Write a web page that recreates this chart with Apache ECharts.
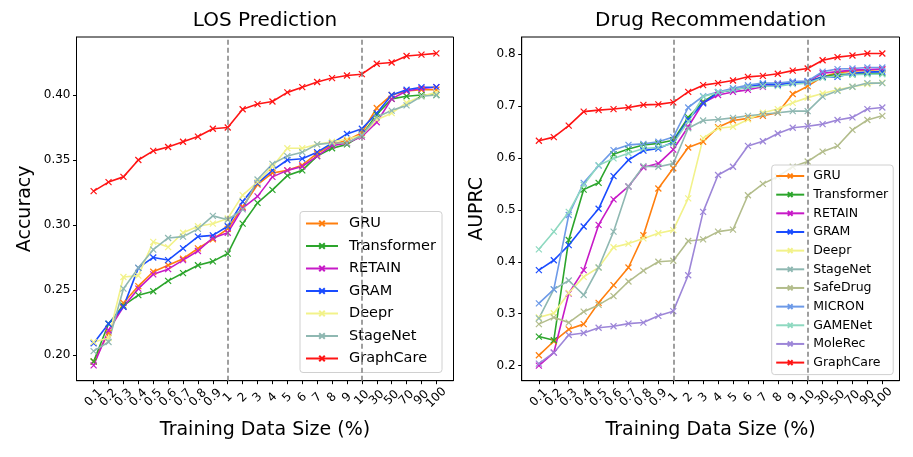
<!DOCTYPE html>
<html><head><meta charset="utf-8">
<script src="https://cdn.jsdelivr.net/npm/echarts@6/dist/echarts.min.js"></script>
<style>html,body{margin:0;padding:0;background:#fff}#c{width:913px;height:457px}</style>
</head><body><div id="c"></div>
<script>
var categories = ['0.1','0.2','0.3','0.4','0.5','0.6','0.7','0.8','0.9','1','2','3','4','5','6','7','8','9','10','30','50','70','90','100'];
var dividerCategories = ['1','10'];
var losTicks = [0.20,0.25,0.30,0.35,0.40];
var drugTicks = [0.2,0.3,0.4,0.5,0.6,0.7,0.8];

var losNames = ['GRU','Transformer','RETAIN','GRAM','Deepr','StageNet','GraphCare'];
var drugNames = ['GRU','Transformer','RETAIN','GRAM','Deepr','StageNet','SafeDrug','MICRON','GAMENet','MoleRec','GraphCare'];

var los_GRU = [0.195,0.217,0.240,0.253,0.264,0.269,0.274,0.282,0.289,0.297,0.314,0.331,0.340,0.342,0.346,0.355,0.362,0.365,0.371,0.390,0.400,0.403,0.404,0.404];
var los_Transformer = [0.195,0.224,0.238,0.246,0.249,0.257,0.263,0.269,0.272,0.278,0.301,0.317,0.327,0.338,0.342,0.353,0.359,0.362,0.369,0.385,0.397,0.399,0.400,0.400];
var los_RETAIN = [0.192,0.219,0.237,0.251,0.262,0.266,0.273,0.280,0.290,0.294,0.313,0.322,0.337,0.342,0.345,0.353,0.361,0.363,0.368,0.379,0.397,0.403,0.405,0.406];
var los_GRAM = [0.209,0.224,0.237,0.267,0.275,0.273,0.282,0.291,0.292,0.299,0.318,0.332,0.342,0.350,0.351,0.356,0.363,0.370,0.374,0.386,0.400,0.404,0.406,0.406];
var los_Deepr = [0.210,0.213,0.260,0.261,0.287,0.283,0.294,0.299,0.301,0.305,0.323,0.333,0.345,0.359,0.359,0.362,0.364,0.366,0.369,0.381,0.386,0.394,0.399,0.402];
var los_StageNet = [0.203,0.210,0.251,0.267,0.281,0.290,0.291,0.297,0.307,0.304,0.312,0.335,0.347,0.353,0.356,0.362,0.363,0.363,0.369,0.383,0.388,0.392,0.399,0.400];
var los_GraphCare = [0.326,0.333,0.337,0.350,0.357,0.360,0.364,0.368,0.374,0.375,0.389,0.393,0.395,0.402,0.406,0.410,0.413,0.415,0.416,0.424,0.425,0.430,0.431,0.432];

var drug_GRU = [0.220,0.247,0.270,0.280,0.321,0.355,0.389,0.451,0.541,0.580,0.620,0.631,0.659,0.672,0.676,0.681,0.687,0.723,0.738,0.756,0.764,0.767,0.769,0.770];
var drug_Transformer = [0.256,0.249,0.442,0.539,0.552,0.607,0.617,0.625,0.628,0.634,0.678,0.708,0.726,0.731,0.736,0.740,0.742,0.745,0.747,0.756,0.761,0.761,0.763,0.763];
var drug_RETAIN = [0.200,0.225,0.339,0.384,0.471,0.520,0.545,0.582,0.589,0.616,0.660,0.706,0.721,0.727,0.731,0.737,0.742,0.745,0.747,0.763,0.766,0.769,0.770,0.771];
var drug_GRAM = [0.384,0.403,0.432,0.468,0.502,0.565,0.596,0.614,0.618,0.630,0.674,0.705,0.726,0.731,0.737,0.742,0.740,0.745,0.745,0.756,0.756,0.763,0.765,0.766];
var drug_Deepr = [0.293,0.301,0.340,0.371,0.389,0.428,0.435,0.445,0.455,0.461,0.522,0.638,0.657,0.660,0.674,0.687,0.694,0.706,0.716,0.724,0.731,0.737,0.742,0.745];
var drug_StageNet = [0.291,0.347,0.364,0.336,0.389,0.458,0.545,0.584,0.583,0.589,0.657,0.672,0.674,0.677,0.681,0.684,0.687,0.690,0.690,0.718,0.729,0.737,0.744,0.744];
var drug_SafeDrug = [0.280,0.293,0.283,0.304,0.317,0.334,0.362,0.383,0.400,0.402,0.440,0.443,0.458,0.462,0.528,0.550,0.564,0.583,0.593,0.612,0.623,0.654,0.673,0.681];
var drug_MICRON = [0.320,0.347,0.490,0.552,0.585,0.615,0.625,0.627,0.631,0.640,0.697,0.719,0.727,0.734,0.740,0.744,0.744,0.747,0.748,0.766,0.771,0.772,0.774,0.774];
var drug_GAMENet = [0.424,0.458,0.496,0.548,0.586,0.599,0.609,0.618,0.620,0.628,0.670,0.718,0.726,0.731,0.736,0.738,0.738,0.742,0.744,0.754,0.758,0.760,0.761,0.761];
var drug_MoleRec = [0.204,0.225,0.259,0.263,0.273,0.276,0.281,0.283,0.296,0.305,0.374,0.496,0.567,0.583,0.623,0.632,0.647,0.658,0.661,0.665,0.673,0.678,0.694,0.697];
var drug_GraphCare = [0.633,0.640,0.662,0.689,0.692,0.694,0.697,0.702,0.703,0.707,0.727,0.740,0.744,0.749,0.756,0.758,0.762,0.768,0.772,0.788,0.794,0.797,0.801,0.801];

var colors = {GRU:'#ff7f0e',Transformer:'#2ca52c',RETAIN:'#c71ac7',GRAM:'#1a4cff',Deepr:'#f2f28a',StageNet:'#8fb8b2',SafeDrug:'#b3bd8c',MICRON:'#6d9ae8',GAMENet:'#8ed9c0',MoleRec:'#9d86d8',GraphCare:'#ff1414'};

var losData = {GRU:los_GRU,Transformer:los_Transformer,RETAIN:los_RETAIN,GRAM:los_GRAM,Deepr:los_Deepr,StageNet:los_StageNet,GraphCare:los_GraphCare};
var drugData = {GRU:drug_GRU,Transformer:drug_Transformer,RETAIN:drug_RETAIN,GRAM:drug_GRAM,Deepr:drug_Deepr,StageNet:drug_StageNet,SafeDrug:drug_SafeDrug,MICRON:drug_MICRON,GAMENet:drug_GAMENet,MoleRec:drug_MoleRec,GraphCare:drug_GraphCare};

var FONT = 'DejaVu Sans';
var XMARK = 'path://M0 0L10 10M10 0L0 10';
var evenIdx = [], oddIdx = [];
categories.forEach(function(_, i){ (i % 2 === 0 ? evenIdx : oddIdx).push(i); });
var dividers = dividerCategories.map(function(c){ return categories.indexOf(c); });

function mkSeries(name, vals, gi, withMark) {
  var s = {
    type:'line', name:name, xAxisIndex:gi, yAxisIndex:gi,
    data: vals.map(function(v,i){ return [i, v]; }),
    symbol: XMARK, symbolSize: 6,
    lineStyle:{color:colors[name], width:1.6},
    itemStyle:{color:colors[name], borderColor:colors[name], borderWidth:1.2},
    emphasis:{disabled:true}, animation:false, z:3
  };
  if (withMark) {
    s.markLine = {silent:true, symbol:'none', label:{show:false},
      lineStyle:{type:[5,3], color:'#808080', width:1.5},
      data: dividers.map(function(d){ return {xAxis:d}; })};
  }
  return s;
}

var series = [];
losNames.forEach(function(n, k){ series.push(mkSeries(n, losData[n], 0, k===0)); });
drugNames.forEach(function(n, k){ series.push(mkSeries(n, drugData[n], 1, k===0)); });

function xAxis(gi, ticks, withName) {
  var ax = {
    type:'value', gridIndex:gi, position:'bottom', offset:0,
    min:-1.15, max:categories.length-1+1.15,
    axisLine:{show:true, onZero:false, lineStyle:{color:'#000', width:1}},
    axisTick:{show:true, length:3.5, inside:false, customValues:ticks, lineStyle:{color:'#000'}},
    axisLabel:{show:true, customValues:ticks, rotate:45, align:'center', verticalAlign:'middle', margin:17,
      showMinLabel:true, showMaxLabel:true, hideOverlap:false,
      fontFamily:FONT, fontSize:12, color:'#000',
      formatter:function(v){ return categories[Math.round(v)]; }},
    splitLine:{show:false}
  };
  if (withName) {
    ax.name = 'Training Data Size (%)';
    ax.nameLocation = 'middle';
    ax.nameGap = 40;
    ax.nameTextStyle = {fontFamily:FONT, fontSize:19, color:'#000'};
  }
  return ax;
}
function yAxis(gi, min, max, ticks, dec, nm, gap) {
  return {
    type:'value', gridIndex:gi, min:min, max:max,
    name:nm, nameLocation:'middle', nameGap:gap,
    nameTextStyle:{fontFamily:FONT, fontSize:19, color:'#000'},
    axisLine:{show:true, onZero:false, lineStyle:{color:'#000', width:1}},
    axisTick:{show:true, length:3.5, customValues:ticks, lineStyle:{color:'#000'}},
    axisLabel:{show:true, customValues:ticks, margin:6, fontFamily:FONT, fontSize:12, color:'#000',
      showMinLabel:true, showMaxLabel:true,
      formatter:function(v){ return v.toFixed(dec); }},
    splitLine:{show:false}
  };
}

var option = {
  backgroundColor:'#fff',
  animation:false,
  title:[
    {text:'LOS Prediction', left:265, top:11, textAlign:'center', padding:0,
      textStyle:{fontFamily:FONT, fontSize:20, fontWeight:'normal', color:'#000'}},
    {text:'Drug Recommendation', left:710.6, top:11, textAlign:'center', padding:0,
      textStyle:{fontFamily:FONT, fontSize:20, fontWeight:'normal', color:'#000'}}
  ],
  grid:[
    {left:76.5, right:459.5, top:37, bottom:76.3, show:true, borderColor:'#000', borderWidth:1, backgroundColor:'transparent'},
    {left:521.7, right:13.5, top:37, bottom:76.3, show:true, borderColor:'#000', borderWidth:1, backgroundColor:'transparent'}
  ],
  xAxis:[xAxis(0, evenIdx, true), xAxis(1, evenIdx, true), xAxis(0, oddIdx, false), xAxis(1, oddIdx, false)],
  yAxis:[
    yAxis(0, 0.1802, 0.4446, losTicks, 2, 'Accuracy', 42),
    yAxis(1, 0.1711, 0.8327, drugTicks, 1, 'AUPRC', 35)
  ],
  legend:[
    {data:losNames, orient:'vertical', left:300, top:211.5, itemWidth:32, itemHeight:7, itemGap:6.5,
      padding:[4,6,6,5], backgroundColor:'rgba(255,255,255,0.8)', borderColor:'#d0d0d0', borderWidth:1, borderRadius:3,
      textStyle:{fontFamily:FONT, fontSize:14.5, color:'#000', lineHeight:16, padding:[0,0,0,6]}, selectedMode:false},
    {data:drugNames, orient:'vertical', left:771.7, top:165, itemWidth:28, itemHeight:6, itemGap:4.66,
      padding:[4,5,5,3.5], backgroundColor:'rgba(255,255,255,0.8)', borderColor:'#d0d0d0', borderWidth:1, borderRadius:3,
      textStyle:{fontFamily:FONT, fontSize:12.5, color:'#000', lineHeight:14, padding:[0,0,0,4]}, selectedMode:false}
  ],
  series:series
};
var chart = echarts.init(document.getElementById('c'), null, {renderer:'canvas'});
chart.setOption(option);
</script>
</body></html>
